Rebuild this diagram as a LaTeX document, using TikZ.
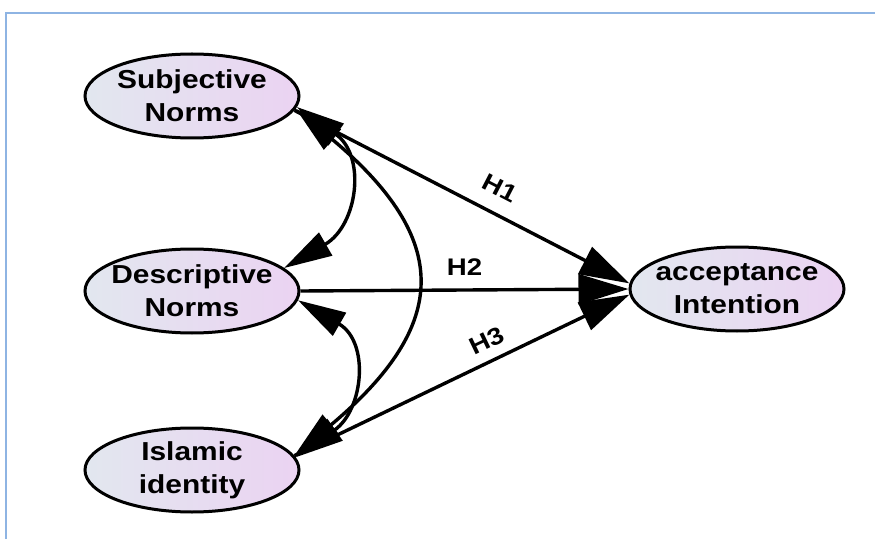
\documentclass[tikz,border=0pt]{standalone}
\usepackage{fontspec}
\usetikzlibrary{shapes.geometric, arrows.meta}

\newfontfamily\diagfont{Liberation Sans}[FakeStretch=1.15]

\definecolor{framecol}{HTML}{8EB4E3}
\definecolor{fillleft}{HTML}{E2E7EF}
\definecolor{fillright}{HTML}{EBD3F2}

\tikzset{
  latent/.style={ellipse, draw, line width=3pt, minimum width=214pt, minimum height=84pt,
    inner xsep=-15pt, inner ysep=-12pt, left color=fillleft, right color=fillright, align=center,
    font=\diagfont\bfseries\fontsize{26pt}{33pt}\selectfont},
  hyp/.style={line width=3.4pt, -{Triangle[length=50pt, width=30pt]}},
  cov/.style={line width=3.4pt, {Triangle[length=48pt, width=26pt]}-{Triangle[length=48pt, width=26pt]}},
  lbl/.style={font=\diagfont\bfseries\fontsize{24pt}{24pt}\selectfont, inner sep=1pt}
}

\begin{document}
\begin{tikzpicture}[x=1pt, y=1pt]
	\useasboundingbox (0,0) rectangle (875,539);

	% frame
	\draw[framecol, line width=2pt] (6,0) -- (6,526) -- (875,526);

	\node[latent] (subj) at (192,443) {Subjective\\Norms};
	\node[latent] (desc) at (192,248) {Descriptive\\Norms};
	\node[latent] (isl) at (192,69) {Islamic\\identity};
	\node[latent] (acc) at (737,250) {acceptance\\Intention};

	% hypotheses
	\draw[hyp] (subj.-8) -- node[lbl, sloped, above=14pt, pos=0.58] {H1} (acc.177);
	\draw[hyp] (desc.east) -- node[lbl, above=12pt, pos=0.5] {H2} (acc.west);
	\draw[hyp] (isl.8) -- node[lbl, sloped, above=9pt, pos=0.6] {H3} (acc.183);

	% correlations
	\draw[cov] (subj.-6) to[out=-35, in=30, looseness=1.35] (desc.14);
	\draw[cov] (desc.-5) to[out=-30, in=35, looseness=1.35] (isl.7);
	\draw[cov] (subj.-7) to[out=-40, in=40, looseness=1.5] (isl.8);
\end{tikzpicture}
\end{document}
